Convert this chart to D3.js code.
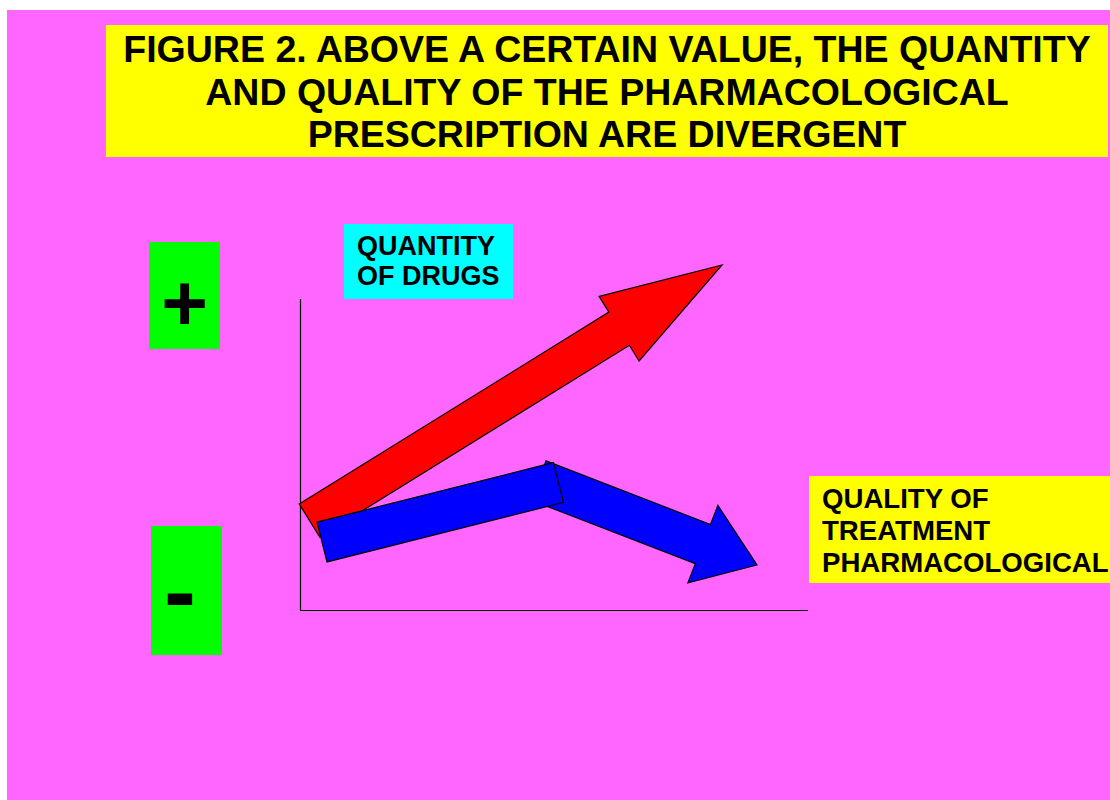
<!DOCTYPE html>
<html>
<head>
<meta charset="utf-8">
<script src="https://cdn.jsdelivr.net/npm/d3@7"></script>
<style>
    html, body { margin: 0; padding: 0; background: #fff; }
    text { font-family: "Liberation Sans", Arial, sans-serif; font-weight: bold; fill: #000; }
</style>
</head>
<body>
<div id="figure"></div>
<script>
(function() {
    var width = 1110,
        height = 800;

    // axis domain of the sketch (no ticks, only the two axis lines)
    var xDomain = [0, 100],
        yDomain = [0, 100];

    // arrows: [tail centre, tip] in axis units
    var quantityArrow = [[1.87, 28.87], [83.07, 111.29]];
    var qualityRise = [[4.33, 21.94], [50.89, 41.13]];
    var qualityFall = [[46.95, 41.77], [89.96, 14.52]];

    var titleLines = [
        "FIGURE 2. ABOVE A CERTAIN VALUE, THE QUANTITY",
        "AND QUALITY OF THE PHARMACOLOGICAL",
        "PRESCRIPTION ARE DIVERGENT"
    ];
    var yLabelLines = ["QUANTITY", "OF DRUGS"];
    var xLabelLines = ["QUALITY OF", "TREATMENT", "PHARMACOLOGICAL"];
    var signs = ["+", "-"];

    var svg = d3.select("#figure")
        .append("svg")
        .attr("width", width)
        .attr("height", height);

    // magenta page
    svg.append("rect")
        .attr("x", 7)
        .attr("y", 10)
        .attr("width", width - 7)
        .attr("height", height - 10)
        .attr("fill", "#ff66ff");

    var x = d3.scaleLinear().domain(xDomain).range([300, 808]),
        y = d3.scaleLinear().domain(yDomain).range([610, 300]);

    // title box
    svg.append("rect")
        .attr("x", 106).attr("y", 25)
        .attr("width", 1002).attr("height", 132)
        .attr("fill", "#ffff00");

    svg.append("g")
        .selectAll("text")
        .data(titleLines)
        .enter().append("text")
        .attr("x", 607)
        .attr("y", (d, i) => 62 + i * 42.5)
        .attr("text-anchor", "middle")
        .style("font-size", "37.5px")
        .text(d => d);

    // axis lines
    svg.append("line")
        .attr("x1", x(0) + 0.5).attr("x2", x(0) + 0.5)
        .attr("y1", y(100) - 1).attr("y2", y(0))
        .attr("stroke", "#000").attr("stroke-width", 1.2);
    svg.append("line")
        .attr("x1", x(0)).attr("x2", x(100))
        .attr("y1", y(0) + 0.5).attr("y2", y(0) + 0.5)
        .attr("stroke", "#000").attr("stroke-width", 1.2);

    // y label
    svg.append("rect")
        .attr("x", 344).attr("y", 224)
        .attr("width", 169).attr("height", 75)
        .attr("fill", "#00ffff");
    svg.append("g")
        .selectAll("text")
        .data(yLabelLines)
        .enter().append("text")
        .attr("x", 357)
        .attr("y", (d, i) => 255 + i * 30)
        .style("font-size", "27px")
        .text(d => d);

    // x label
    svg.append("rect")
        .attr("x", 809).attr("y", 476)
        .attr("width", width - 809).attr("height", 107)
        .attr("fill", "#ffff00");
    svg.append("g")
        .selectAll("text")
        .data(xLabelLines)
        .enter().append("text")
        .attr("x", 822)
        .attr("y", (d, i) => 508 + i * 32)
        .style("font-size", "27.6px")
        .text(d => d);

    // + / - boxes
    var signBoxes = [
        {x: 149, y: 242, w: 71, h: 107, tx: 184.5, ty: 330, size: 80},
        {x: 151, y: 526, w: 71, h: 129, tx: 180, ty: 624, size: 96}
    ];
    var sg = svg.append("g")
        .selectAll("g")
        .data(signs)
        .enter().append("g");
    sg.append("rect")
        .attr("x", (d, i) => signBoxes[i].x)
        .attr("y", (d, i) => signBoxes[i].y)
        .attr("width", (d, i) => signBoxes[i].w)
        .attr("height", (d, i) => signBoxes[i].h)
        .attr("fill", "#00ff00");
    sg.append("text")
        .attr("x", (d, i) => signBoxes[i].tx)
        .attr("y", (d, i) => signBoxes[i].ty)
        .attr("text-anchor", "middle")
        .style("font-size", (d, i) => signBoxes[i].size + "px")
        .text(d => d);

    // block arrow outline from tail centre to tip, in pixels
    function arrowPath(pts, shaft, headW, headL) {
        var p0 = [x(pts[0][0]), y(pts[0][1])],
            p1 = [x(pts[1][0]), y(pts[1][1])];
        var dx = p1[0] - p0[0],
            dy = p1[1] - p0[1],
            len = Math.sqrt(dx * dx + dy * dy);
        var ux = dx / len, uy = dy / len,
            nx = -uy, ny = ux;
        var b = [p1[0] - ux * headL, p1[1] - uy * headL];
        var off = (p, k) => [p[0] + nx * k, p[1] + ny * k];
        var poly;
        if (headL > 0) {
            poly = [off(p0, -shaft / 2), off(b, -shaft / 2), off(b, -headW / 2), p1,
                off(b, headW / 2), off(b, shaft / 2), off(p0, shaft / 2)];
        } else {
            poly = [off(p0, -shaft / 2), off(p1, -shaft / 2), off(p1, shaft / 2), off(p0, shaft / 2)];
        }
        return "M" + poly.map(p => p[0].toFixed(1) + "," + p[1].toFixed(1)).join("L") + "Z";
    }

    var arrows = [
        {pts: quantityArrow, fill: "#ff0000", shaft: 39, headW: 76, headL: 121},
        {pts: qualityFall, fill: "#0000ff", shaft: 42, headW: 83, headL: 58},
        {pts: qualityRise, fill: "#0000ff", shaft: 41, headW: 0, headL: 0}
    ];

    svg.append("g")
        .selectAll("path")
        .data(arrows)
        .enter().append("path")
        .attr("d", d => arrowPath(d.pts, d.shaft, d.headW, d.headL))
        .attr("fill", d => d.fill)
        .attr("stroke", "#000")
        .attr("stroke-width", 1.2)
        .attr("stroke-linejoin", "miter");
})();
</script>
</body>
</html>
